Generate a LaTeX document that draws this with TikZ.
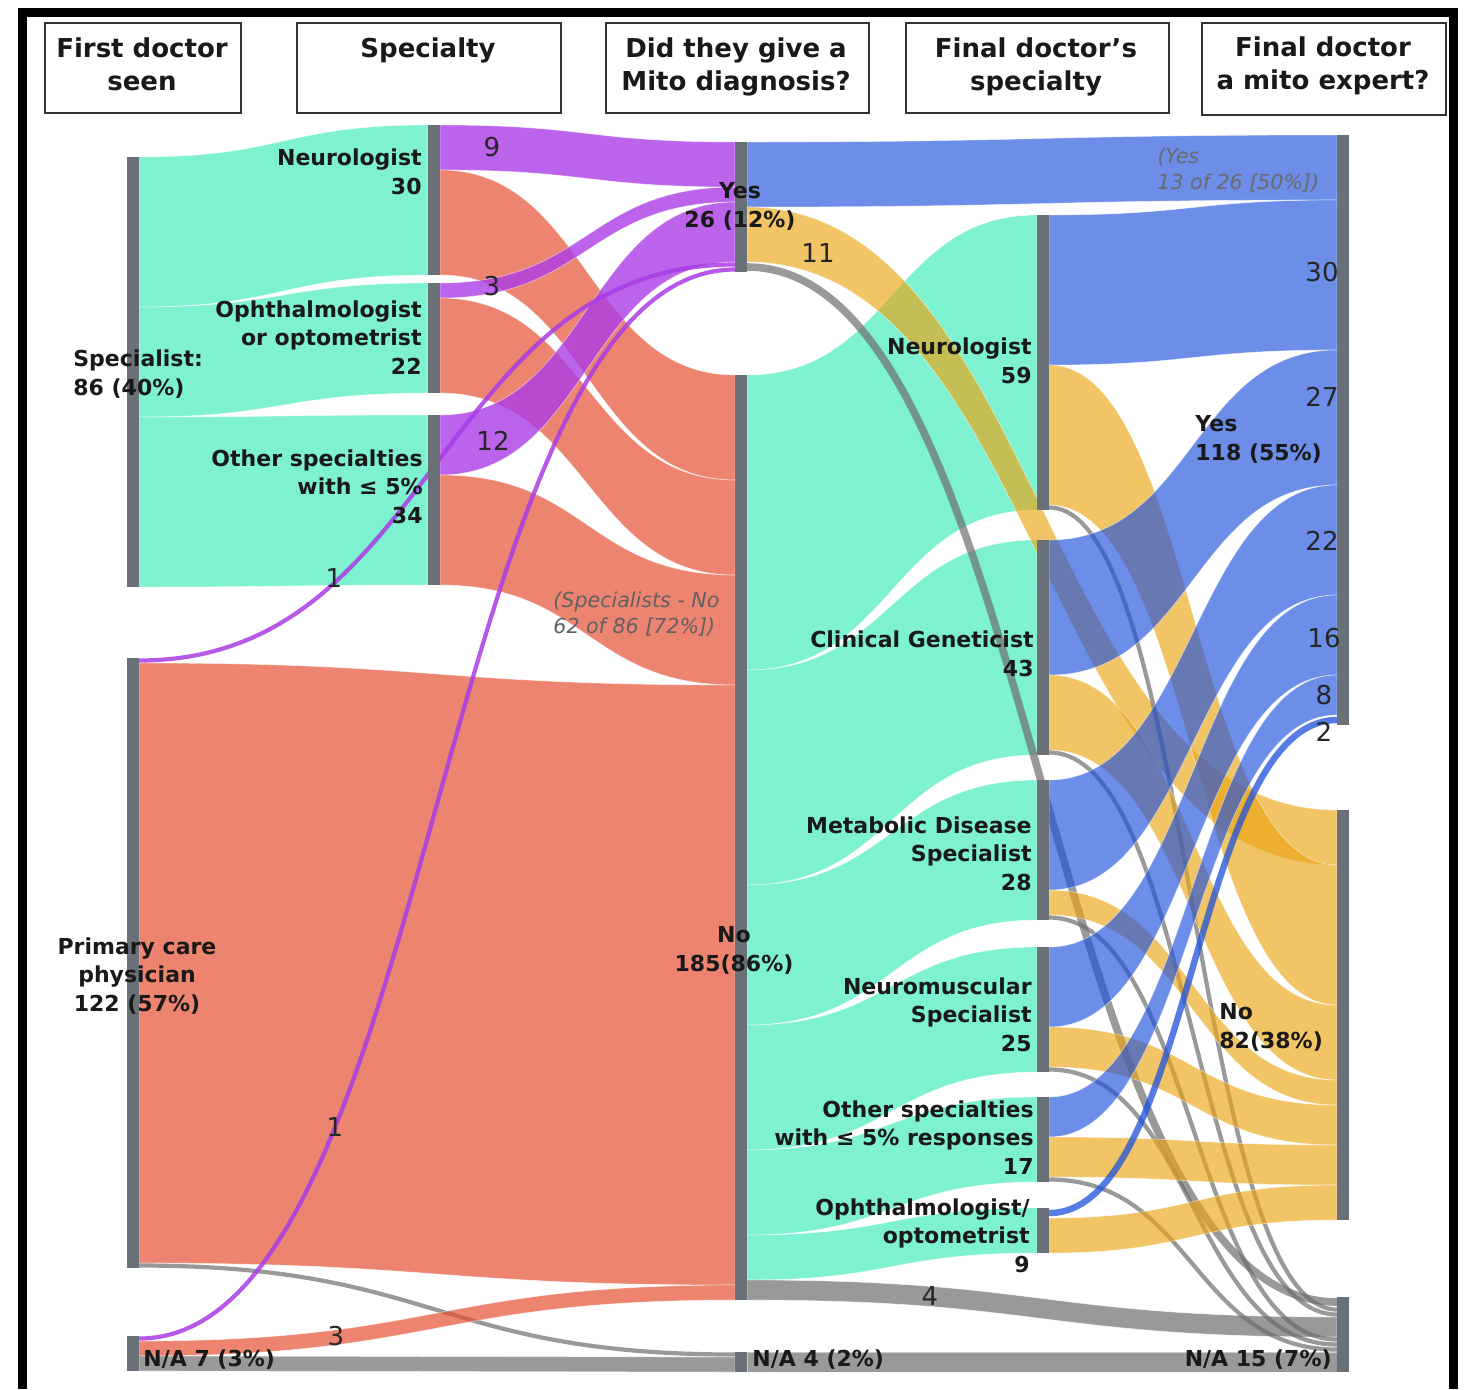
\documentclass[tikz,border=0pt]{standalone}
\usepackage{fontspec}
\setmainfont{DejaVu Sans}
\definecolor{tealbase}{RGB}{20,230,170}
\definecolor{salmbase}{RGB}{230,80,50}
\definecolor{purpbase}{RGB}{170,60,230}
\definecolor{bluebase}{RGB}{30,80,220}
\definecolor{goldbase}{RGB}{235,165,20}
\definecolor{graybase}{RGB}{110,110,110}
\definecolor{barcol}{RGB}{105,112,120}
\definecolor{txtcol}{RGB}{25,25,25}
% a Sankey band: style, x1, top y1, x2, top y2, value (5 px per unit)
\newcommand\sankeyband[6]{%
  \pgfmathsetmacro\bxm{(#2+#4)/2}%
  \pgfmathsetmacro\bya{#3+5*#6}%
  \pgfmathsetmacro\byb{#5+5*#6}%
  \path[#1] (#2,#3) .. controls (\bxm,#3) and (\bxm,#5) .. (#4,#5)
    -- (#4,\byb) .. controls (\bxm,\byb) and (\bxm,\bya) .. (#2,\bya) -- cycle;}
% a narrow Sankey link drawn as one stroke: style, x1, mid y1, x2, mid y2
\newcommand\sankeyline[5]{%
  \pgfmathsetmacro\bxm{(#2+#4)/2}%
  \draw[#1] (#2,#3) .. controls (\bxm,#3) and (\bxm,#5) .. (#4,#5);}
% a node bar: name, x, top y, value
\newcommand\sankeybar[4]{%
  \node[sbar, minimum height=#4*2.5pt, anchor=north west] (#1) at (#2,#3) {};}
\begin{document}
\begin{tikzpicture}[x=0.5pt,y=-0.5pt,
  flowbase/.style={draw=white, draw opacity=0.5, line width=0.35pt},
  tealflow/.style={flowbase, fill=tealbase, fill opacity=0.55},
  salmflow/.style={flowbase, fill=salmbase, fill opacity=0.7},
  purpflow/.style={flowbase, fill=purpbase, fill opacity=0.8},
  bluflow/.style={flowbase, fill=bluebase, fill opacity=0.65},
  goldflow/.style={flowbase, fill=goldbase, fill opacity=0.65},
  grayflow/.style={flowbase, fill=graybase, fill opacity=0.7},
  purpline/.style={draw=purpbase, draw opacity=0.85, line width=2.1pt},
  grayline/.style={draw=graybase, draw opacity=0.7, line width=2.1pt},
  grayline2/.style={draw=graybase, draw opacity=0.7, line width=3.8pt},
  bluline/.style={draw=bluebase, draw opacity=0.75, line width=3.2pt},
  sbar/.style={fill=barcol, draw=none, inner sep=0pt, outer sep=0pt, minimum width=6pt},
  hdrbox/.style={draw=black!80, line width=1pt, fill=white, inner sep=0pt},
  hdr/.style={font=\bfseries\fontsize{13}{16.5}\selectfont, text=txtcol, align=center, inner sep=0pt},
  lbl/.style={font=\bfseries\fontsize{11}{14.2}\selectfont, text=txtcol, inner sep=0pt},
  num/.style={font=\fontsize{13}{15}\selectfont, text=black!85, inner sep=0pt},
  note/.style={font=\itshape\fontsize{10.3}{13}\selectfont, align=left, inner sep=0pt}
]
\useasboundingbox (0,0) rectangle (1466,1389);
\fill[white] (0,0) rectangle (1466,1389);

% outer frame
\draw[line width=4.5pt, black] (22,1389) -- (22,12) -- (1453,12) -- (1453,1389);

% column headers (text nodes anchored at the baseline of their last line)
\node[hdrbox, minimum width=98pt, minimum height=45pt, anchor=north west] (h1) at (44,22) {};
\node[hdrbox, minimum width=132pt, minimum height=45pt, anchor=north west] (h2) at (296,22) {};
\node[hdrbox, minimum width=131.5pt, minimum height=45pt, anchor=north west] (h3) at (605,22) {};
\node[hdrbox, minimum width=131.5pt, minimum height=45pt, anchor=north west] (h4) at (905,22) {};
\node[hdrbox, minimum width=122pt, minimum height=46pt, anchor=north west] (h5) at (1201,22) {};
\node[hdr, anchor=base] (t1) at (142,90) {First doctor\\seen};
\node[hdr, anchor=base] (t2) at (428,57) {Specialty};
\node[hdr, anchor=base] (t3) at (736,90) {Did they give a\\Mito diagnosis?};
\node[hdr, anchor=base] (t4) at (1036,90) {Final doctor's\\specialty};
\node[hdr, anchor=base] (t5) at (1323,89) {Final doctor\\a mito expert?};

% first doctor -> specialty
\sankeyband{tealflow}{139}{157}{428}{125}{30}
\sankeyband{tealflow}{139}{307}{428}{283}{22}
\sankeyband{tealflow}{139}{417}{428}{415}{34}
% specialty -> mito diagnosis
\sankeyband{purpflow}{440}{125}{735}{142}{9}
\sankeyband{salmflow}{440}{170}{735}{375}{21}
\sankeyband{purpflow}{440}{283}{735}{187}{3}
\sankeyband{salmflow}{440}{298}{735}{480}{19}
\sankeyband{purpflow}{440}{415}{735}{202}{12}
\sankeyband{salmflow}{440}{475}{735}{575}{22}
% primary care and N/A -> mito diagnosis
\sankeyband{salmflow}{139}{663}{735}{685}{120}
\sankeyline{purpline}{139}{660.5}{735}{264.5}
\sankeyline{grayline}{139}{1265.5}{735}{1354.5}
\sankeyband{salmflow}{139}{1341}{735}{1285}{3}
\sankeyline{purpline}{139}{1338.5}{735}{269.5}
\sankeyband{grayflow}{139}{1356}{735}{1357}{3}
% mito diagnosis "No" -> final specialty
\sankeyband{tealflow}{747}{375}{1037}{215}{59}
\sankeyband{tealflow}{747}{670}{1037}{540}{43}
\sankeyband{tealflow}{747}{885}{1037}{780}{28}
\sankeyband{tealflow}{747}{1025}{1037}{947}{25}
\sankeyband{tealflow}{747}{1150}{1037}{1097}{17}
\sankeyband{tealflow}{747}{1235}{1037}{1208}{9}
\sankeyband{grayflow}{747}{1280}{1337}{1317}{4}
\sankeyband{grayflow}{747}{1352}{1337}{1352}{4}
% mito diagnosis "Yes" -> expert
\sankeyband{bluflow}{747}{142}{1337}{135}{13}
\sankeyband{goldflow}{747}{207}{1337}{810}{11}
\sankeyline{grayline2}{747}{267}{1337}{1302}
% final specialty -> mito expert
\sankeyband{bluflow}{1049}{215}{1337}{200}{30}
\sankeyband{goldflow}{1049}{365}{1337}{865}{28}
\sankeyline{grayline}{1049}{507.5}{1337}{1309.5}
\sankeyband{bluflow}{1049}{540}{1337}{350}{27}
\sankeyband{goldflow}{1049}{675}{1337}{1005}{15}
\sankeyline{grayline}{1049}{752.5}{1337}{1314.5}
\sankeyband{bluflow}{1049}{780}{1337}{485}{22}
\sankeyband{goldflow}{1049}{890}{1337}{1080}{5}
\sankeyline{grayline}{1049}{917.5}{1337}{1339.5}
\sankeyband{bluflow}{1049}{947}{1337}{595}{16}
\sankeyband{goldflow}{1049}{1027}{1337}{1105}{8}
\sankeyline{grayline}{1049}{1069.5}{1337}{1344.5}
\sankeyband{bluflow}{1049}{1097}{1337}{675}{8}
\sankeyband{goldflow}{1049}{1137}{1337}{1145}{8}
\sankeyline{grayline}{1049}{1179.5}{1337}{1349.5}
\sankeyline{bluline}{1049}{1213}{1337}{720}
\sankeyband{goldflow}{1049}{1218}{1337}{1185}{7}

% node bars
\sankeybar{spec}{127}{157}{86}
\sankeybar{prim}{127}{658}{122}
\sankeybar{naA}{127}{1336}{7}
\sankeybar{neuB}{428}{125}{30}
\sankeybar{ophB}{428}{283}{22}
\sankeybar{othB}{428}{415}{34}
\sankeybar{yesC}{735}{142}{26}
\sankeybar{noC}{735}{375}{185}
\sankeybar{naC}{735}{1352}{4}
\sankeybar{neuD}{1037}{215}{59}
\sankeybar{cgD}{1037}{540}{43}
\sankeybar{metD}{1037}{780}{28}
\sankeybar{nmD}{1037}{947}{25}
\sankeybar{othD}{1037}{1097}{17}
\sankeybar{ophD}{1037}{1208}{9}
\sankeybar{yesE}{1337}{135}{118}
\sankeybar{noE}{1337}{810}{82}
\sankeybar{naE}{1337}{1297}{15}

% node labels (anchored at the baseline of their last line)
\node[lbl, align=left, anchor=base west] (Lspec) at (73,395) {Specialist:\\86 (40\%)};
\node[lbl, align=center, anchor=base] (Lprim) at (137,1011) {Primary care\\physician\\122 (57\%)};
\node[lbl, anchor=base west] (LnaA) at (143,1366) {N/A 7 (3\%)};
\node[lbl, align=right, anchor=base east] (LneuB) at (422,194) {Neurologist\\30};
\node[lbl, align=right, anchor=base east] (LophB) at (422,374) {Ophthalmologist\\or optometrist\\22};
\node[lbl, align=right, anchor=base east] (LothB) at (423,523) {Other specialties\\with ≤ 5\%\\34};
\node[lbl, align=center, anchor=base] (LyesC) at (740,227) {Yes\\26 (12\%)};
\node[lbl, align=center, anchor=base] (LnoC) at (734,971) {No\\185(86\%)};
\node[lbl, anchor=base west] (LnaC) at (752,1366) {N/A 4 (2\%)};
\node[lbl, align=right, anchor=base east] (LneuD) at (1032,383) {Neurologist\\59};
\node[lbl, align=right, anchor=base east] (LcgD) at (1034,676) {Clinical Geneticist\\43};
\node[lbl, align=right, anchor=base east] (LmetD) at (1032,890) {Metabolic Disease\\Specialist\\28};
\node[lbl, align=right, anchor=base east] (LnmD) at (1032,1051) {Neuromuscular\\Specialist\\25};
\node[lbl, align=right, anchor=base east] (LothD) at (1034,1174) {Other specialties\\with ≤ 5\% responses\\17};
\node[lbl, align=right, anchor=base east] (LophD) at (1030,1272) {Ophthalmologist/\\optometrist\\9};
\node[lbl, align=left, anchor=base west] (LyesE) at (1195,460) {Yes\\118 (55\%)};
\node[lbl, align=left, anchor=base west] (LnoE) at (1219,1048) {No\\82(38\%)};
\node[lbl, anchor=base east] (LnaE) at (1332,1366) {N/A 15 (7\%)};

% flow values
\node[num] (v9) at (492,147) {9};
\node[num] (v3a) at (492,286) {3};
\node[num] (v12) at (493,441) {12};
\node[num] (v1a) at (334,578) {1};
\node[num] (v1b) at (335,1127) {1};
\node[num] (v3b) at (336,1336) {3};
\node[num] (v11) at (818,253) {11};
\node[num] (v4) at (930,1296) {4};
\node[num] (v30) at (1322,272) {30};
\node[num] (v27) at (1322,397) {27};
\node[num] (v22) at (1322,541) {22};
\node[num] (v16) at (1324,638) {16};
\node[num] (v8) at (1324,695) {8};
\node[num] (v2) at (1324,732) {2};

% annotations
\node[note, text=black!62, anchor=base west] (nspec) at (553,633) {(Specialists - No\\62 of 86 [72\%])};
\node[note, text=black!58, anchor=base west] (nyes) at (1157,189) {(Yes\\13 of 26 [50\%])};
\end{tikzpicture}
\end{document}
